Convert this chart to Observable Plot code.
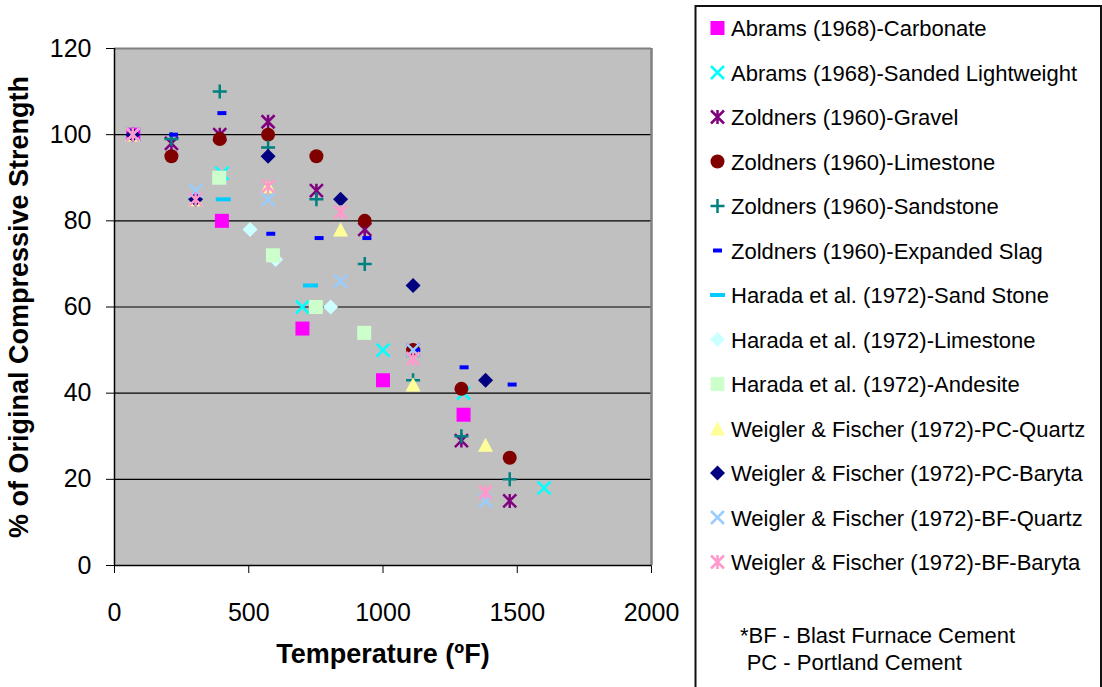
<!DOCTYPE html>
<html><head><meta charset="utf-8">
<script src="https://cdn.jsdelivr.net/npm/d3@7"></script>
<script src="https://cdn.jsdelivr.net/npm/@observablehq/plot@0.6"></script>
<style>
html,body{margin:0;padding:0;background:#fff;width:1102px;height:687px;overflow:hidden;}
#chart{position:absolute;left:0;top:0;}
#legend{position:absolute;left:690px;top:0;}
</style></head><body>
<div id="chart"></div>
<svg id="legend" width="412" height="687"></svg>
<script>
// ---------- data ----------
const abramsTemps = [70, 400, 700, 1000, 1300];
const abramsCarbonate = [100, 80, 55, 43, 35];
const abramsLwTemps = [70, 400, 700, 1000, 1300, 1600];
const abramsSandedLightweight = [100, 91, 60, 50, 40, 18];
const zoldnersTemps = [212, 392, 572, 752, 932, 1112, 1292, 1472];
const zoldnersGravel = [98, 100, 103, 87, 78, 50, 29, 15];
const zoldnersLimestone = [95, 99, 100, 95, 80, 50, 41, 25];
const zoldnersSandstone = [99, 110, 97, 85, 70, 43, 30, 20];
const zoldnersSlagTemps = [220, 400, 582, 762, 940, 1122, 1302, 1481];
const zoldnersExpandedSlag = [100, 105, 77, 76, 76, 50, 46, 42];
const haradaSandTemps = [405, 730];
const haradaSandStone = [85, 65];
const haradaLimeTemps = [505, 600, 805];
const haradaLimestone = [78, 71, 60];
const haradaAndesiteTemps = [390, 590, 750, 930];
const haradaAndesite = [90, 72, 60, 54];
const weiglerTemps = [68, 302, 572, 842, 1112, 1382];
const pcQuartz = [100, 85, 88, 78, 42, 28];
const pcBaryta = [100, 85, 95, 85, 65, 43];
const bfQuartz = [100, 87, 85, 66, 50, 15];
const bfBaryta = [100, 85, 88, 82, 48, 17];

const seriesNames = [
  "Abrams (1968)-Carbonate",
  "Abrams (1968)-Sanded Lightweight",
  "Zoldners (1960)-Gravel",
  "Zoldners (1960)-Limestone",
  "Zoldners (1960)-Sandstone",
  "Zoldners (1960)-Expanded Slag",
  "Harada et al. (1972)-Sand Stone",
  "Harada et al. (1972)-Limestone",
  "Harada et al. (1972)-Andesite",
  "Weigler & Fischer (1972)-PC-Quartz",
  "Weigler & Fischer (1972)-PC-Baryta",
  "Weigler & Fischer (1972)-BF-Quartz",
  "Weigler & Fischer (1972)-BF-Baryta"
];
const seriesTemps = [abramsTemps, abramsLwTemps, zoldnersTemps, zoldnersTemps, zoldnersTemps, zoldnersSlagTemps,
  haradaSandTemps, haradaLimeTemps, haradaAndesiteTemps, weiglerTemps, weiglerTemps, weiglerTemps, weiglerTemps];
const seriesValues = [abramsCarbonate, abramsSandedLightweight, zoldnersGravel, zoldnersLimestone, zoldnersSandstone,
  zoldnersExpandedSlag, haradaSandStone, haradaLimestone, haradaAndesite, pcQuartz, pcBaryta, bfQuartz, bfBaryta];
const xTicks = [0, 500, 1000, 1500, 2000];
const yTicks = [0, 20, 40, 60, 80, 100, 120];
const footnotes = ["*BF - Blast Furnace Cement", "PC - Portland Cement"];

// ---------- marker shapes (Excel-like) ----------
const symSquare = {draw(c){ c.rect(-7, -7, 14, 14); }};
const symCircle = {draw(c){ c.moveTo(7, 0); c.arc(0, 0, 7, 0, 2 * Math.PI); }};
const symDiamond = {draw(c){ c.moveTo(0, -7.5); c.lineTo(7.5, 0); c.lineTo(0, 7.5); c.lineTo(-7.5, 0); c.closePath(); }};
const symTriangle = {draw(c){ c.moveTo(0, -7.2); c.lineTo(7.5, 7); c.lineTo(-7.5, 7); c.closePath(); }};
const symPlus = {draw(c){ c.moveTo(-7, 0); c.lineTo(7, 0); c.moveTo(0, -7); c.lineTo(0, 7); }};
const symTimes = {draw(c){ c.moveTo(-6.5, -6.5); c.lineTo(6.5, 6.5); c.moveTo(6.5, -6.5); c.lineTo(-6.5, 6.5); }};
const symStar = {draw(c){ c.moveTo(-6.5, -6.5); c.lineTo(6.5, 6.5); c.moveTo(6.5, -6.5); c.lineTo(-6.5, 6.5); c.moveTo(0, -7); c.lineTo(0, 7); }};
const symShortDash = {draw(c){ c.rect(-4.5, -2, 9, 4); }};
const symLongDash = {draw(c){ c.rect(-7.5, -2, 15, 4); }};

const styles = [
  {symbol: symSquare, fill: "#FF00FF"},
  {symbol: symTimes, stroke: "#00FFFF"},
  {symbol: symStar, stroke: "#800080"},
  {symbol: symCircle, fill: "#800000"},
  {symbol: symPlus, stroke: "#008080"},
  {symbol: symShortDash, fill: "#0000FF"},
  {symbol: symLongDash, fill: "#00CCFF"},
  {symbol: symDiamond, fill: "#CCFFFF"},
  {symbol: symSquare, fill: "#CCFFCC"},
  {symbol: symTriangle, fill: "#FFFF99"},
  {symbol: symDiamond, fill: "#000080"},
  {symbol: symTimes, stroke: "#99CCFF"},
  {symbol: symStar, stroke: "#FF99CC"}
];

const FONT = "'Liberation Sans', Arial, Helvetica, sans-serif";

const dotMarks = seriesNames.map((name, i) => {
  const rows = seriesTemps[i].map((t, j) => ({t, v: seriesValues[i][j], series: name}));
  const s = styles[i];
  return Plot.dot(rows, {
    x: "t", y: "v", symbol: s.symbol, r: 7,
    fill: s.fill ? s.fill : "none",
    stroke: s.stroke ? s.stroke : "none",
    strokeWidth: s.stroke ? 2.5 : 0
  });
});

const chart = Plot.plot({
  width: 690, height: 687,
  marginLeft: 114, marginRight: 39, marginTop: 48, marginBottom: 122,
  style: {fontFamily: FONT, fontSize: "25px", color: "#000", background: "transparent", overflow: "visible"},
  x: {domain: [0, 2000], ticks: xTicks, tickFormat: d => String(d), tickSize: 8, tickPadding: 30, label: null},
  y: {domain: [0, 120], ticks: yTicks, tickFormat: d => String(d), tickSize: 8, tickPadding: 15, label: null},
  marks: [
    Plot.frame({fill: "#C0C0C0", stroke: "none"}),
    Plot.ruleY(yTicks.filter(d => d > 0 && d < 120), {stroke: "#000", strokeWidth: 1.2}),
    Plot.ruleY([120], {stroke: "#808080", strokeWidth: 2}),
    Plot.ruleX([2000], {stroke: "#808080", strokeWidth: 2.5}),
    Plot.ruleX([0], {stroke: "#000", strokeWidth: 1.5}),
    Plot.ruleY([0], {stroke: "#000", strokeWidth: 1.5}),
    ...dotMarks,
    Plot.text(["Temperature (ºF)"], {text: d => d, frameAnchor: "bottom", textAnchor: "middle", dy: 97, fontSize: 27, fontWeight: "bold", fill: "#000"}),
    Plot.text(["% of Original Compressive Strength"], {text: d => d, frameAnchor: "left", textAnchor: "middle", rotate: -90, dx: -95, fontSize: 27, fontWeight: "bold", fill: "#000"})
  ]
});
document.getElementById("chart").appendChild(chart);

// ---------- legend ----------
const ns = "http://www.w3.org/2000/svg";
const lg = document.getElementById("legend");
function el(tag, attrs, parent) {
  const e = document.createElementNS(ns, tag);
  for (const k in attrs) e.setAttribute(k, attrs[k]);
  parent.appendChild(e);
  return e;
}
el("path", {d: "M5.5,700V6H411V700", fill: "none", stroke: "#111", "stroke-width": 2}, lg);
seriesNames.forEach((name, i) => {
  const base = 36 + 44.5 * i;
  const s = styles[i];
  const p = d3.path();
  s.symbol.draw(p);
  el("path", {
    d: p.toString(), transform: `translate(27.5,${base - 8})`,
    fill: s.fill || "none", stroke: s.stroke || "none", "stroke-width": s.stroke ? 2.5 : 0
  }, lg);
  const t = el("text", {x: 41, y: base, "font-family": FONT, "font-size": 22, fill: "#000"}, lg);
  t.textContent = name;
});
const f1 = el("text", {x: 50, y: 643, "font-family": FONT, "font-size": 22, fill: "#000"}, lg);
f1.textContent = footnotes[0];
const f2 = el("text", {x: 56.7, y: 670, "font-family": FONT, "font-size": 22, fill: "#000"}, lg);
f2.textContent = footnotes[1];
</script>
</body></html>
